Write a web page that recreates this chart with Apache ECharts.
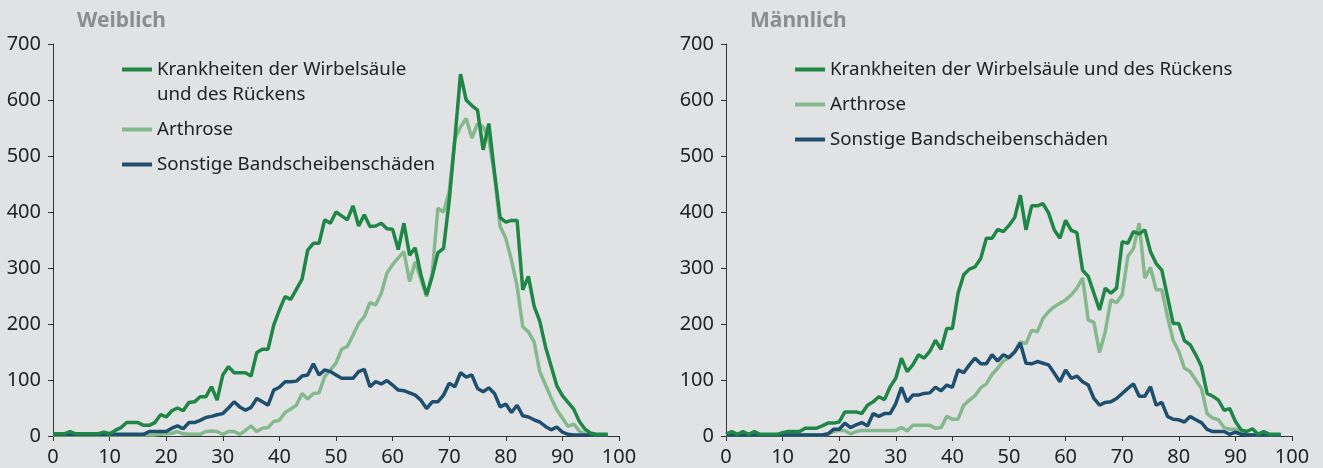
<!DOCTYPE html>
<html>
<head>
<meta charset="utf-8">
<script src="https://cdn.jsdelivr.net/npm/echarts@6/dist/echarts.min.js"></script>
<style>
  html, body { margin: 0; padding: 0; background: #e1e2e4; }
  #chart { width: 1323px; height: 468px; }
</style>
</head>
<body>
<div id="chart"></div>
<script>
// Alter in Jahren (0 bis 98)
const ages = []
for (let a = 0; a <= 98; a++) ages.push(a)

const xTicks = [0, 10, 20, 30, 40, 50, 60, 70, 80, 90, 100]
const yTicks = [0, 100, 200, 300, 400, 500, 600, 700]

const nameKW = 'Krankheiten der Wirbelsäule und des Rückens'
const nameAR = 'Arthrose'
const nameSO = 'Sonstige Bandscheibenschäden'

// Weiblich
const wKW = [
  4, 4, 4, 8, 4, 4, 4, 4, 4, 7,
  4, 10, 15, 24, 24, 24, 19, 19, 24, 38,
  34, 45, 50, 45, 60, 61, 70, 70, 88, 64,
  109, 124, 113, 113, 113, 107, 149, 155, 155, 198,
  225, 249, 244, 262, 280, 332, 344, 344, 386, 380,
  400, 393, 386, 411, 375, 395, 374, 375, 380, 370,
  369, 333, 380, 323, 336, 288, 252, 285, 327, 335,
  420, 530, 646, 600, 590, 582, 511, 558, 470, 390,
  382, 385, 385, 261, 285, 232, 205, 160, 125, 90,
  72, 60, 48, 26, 12, 5, 3, 3, 3
]
const wAR = [
  2, 2, 2, 2, 2, 2, 2, 2, 2, 2,
  2, 2, 2, 2, 2, 2, 2, 2, 2, 3,
  4, 5, 8, 4, 3, 3, 3, 8, 9, 8,
  3, 8, 8, 3, 10, 18, 8, 14, 15, 26,
  28, 42, 48, 55, 76, 66, 76, 77, 106, 118,
  130, 155, 160, 180, 201, 213, 238, 234, 255, 291,
  306, 318, 329, 276, 311, 280, 249, 291, 407, 400,
  436, 530, 552, 567, 532, 558, 552, 530, 466, 374,
  353, 314, 267, 195, 186, 168, 115, 92, 68, 47,
  32, 17, 21, 9, 3, 2, 2, 2, 2
]
const wSO = [
  3, 3, 3, 3, 3, 3, 3, 3, 3, 3,
  3, 3, 3, 3, 3, 3, 3, 8, 8, 8,
  8, 14, 18, 13, 24, 24, 28, 33, 35, 38,
  40, 50, 61, 52, 46, 51, 67, 61, 55, 82,
  87, 97, 97, 98, 107, 109, 129, 109, 118, 115,
  109, 103, 103, 103, 115, 119, 88, 97, 93, 99,
  91, 82, 81, 77, 73, 64, 49, 61, 61, 73,
  94, 88, 113, 105, 109, 85, 79, 86, 76, 52,
  57, 42, 55, 36, 34, 29, 25, 17, 11, 16,
  7, 3, 2, 2, 2, 2, 2, 2, 2
]

// Männlich
const mKW = [
  3, 8, 3, 8, 3, 8, 3, 3, 3, 3,
  6, 8, 8, 8, 14, 14, 14, 18, 23, 23,
  25, 43, 43, 43, 40, 55, 61, 70, 65, 88,
  103, 139, 115, 127, 145, 139, 151, 171, 155, 192,
  192, 255, 288, 298, 302, 317, 353, 353, 369, 365,
  376, 390, 430, 368, 411, 411, 415, 398, 368, 353,
  385, 367, 363, 296, 285, 255, 225, 264, 255, 264,
  347, 344, 365, 361, 368, 329, 308, 296, 249, 201,
  201, 170, 163, 145, 124, 76, 71, 64, 46, 49,
  26, 11, 8, 13, 3, 8, 3, 3, 3
]
const mAR = [
  2, 2, 2, 2, 2, 2, 2, 2, 2, 2,
  2, 2, 2, 2, 2, 2, 2, 2, 3, 8,
  10, 10, 4, 8, 10, 10, 10, 10, 10, 10,
  10, 15, 9, 19, 19, 19, 19, 14, 15, 35,
  30, 30, 55, 64, 72, 86, 93, 110, 121, 134,
  140, 150, 168, 165, 189, 186, 210, 222, 231, 237,
  243, 252, 264, 282, 207, 203, 149, 186, 243, 238,
  252, 321, 335, 380, 282, 301, 261, 261, 213, 171,
  151, 121, 115, 100, 85, 40, 32, 29, 15, 12,
  12, 7, 3, 2, 2, 2, 2, 2, 2
]
const mSO = [
  2, 2, 2, 2, 2, 2, 2, 2, 2, 2,
  2, 2, 2, 2, 2, 2, 2, 2, 4, 12,
  12, 23, 15, 20, 24, 18, 40, 35, 40, 40,
  58, 87, 61, 73, 73, 76, 77, 87, 81, 91,
  87, 118, 113, 127, 139, 129, 129, 145, 134, 145,
  140, 150, 166, 130, 129, 133, 130, 127, 112, 97,
  118, 103, 107, 97, 91, 67, 55, 60, 61, 67,
  76, 85, 93, 71, 71, 88, 55, 60, 35, 30,
  29, 25, 35, 29, 24, 12, 8, 8, 8, 3,
  7, 3, 2, 2, 2, 2, 2, 2, 2
]

const colKW = '#1f8746'
const colAR = '#84b98e'
const colSO = '#1e4f6f'
const font = 'Noto Sans'
const textCol = '#222'

const pairs = vals => vals.map((v, i) => [ages[i], v])

const myChart = echarts.init(document.getElementById('chart'))

function xAxisOf (gridIndex) {
  return {
    type: 'value',
    gridIndex: gridIndex,
    min: xTicks[0],
    max: xTicks[xTicks.length - 1],
    interval: 10,
    splitLine: { show: false },
    axisLine: { show: true, lineStyle: { color: '#333', width: 1 } },
    axisTick: { show: true, length: 5, lineStyle: { color: '#333' } },
    axisLabel: { color: textCol, fontFamily: font, fontSize: 20, margin: 11 }
  }
}
function yAxisOf (gridIndex) {
  return {
    type: 'value',
    gridIndex: gridIndex,
    min: yTicks[0],
    max: yTicks[yTicks.length - 1],
    interval: 100,
    splitLine: { show: false },
    axisLine: { show: true, lineStyle: { color: '#333', width: 1 } },
    axisTick: { show: true, length: 5, lineStyle: { color: '#333' } },
    axisLabel: { color: textCol, fontFamily: font, fontSize: 20, margin: 12 }
  }
}
function lineOf (name, color, vals, idx) {
  return {
    name: name,
    type: 'line',
    xAxisIndex: idx,
    yAxisIndex: idx,
    data: pairs(vals),
    showSymbol: false,
    lineStyle: { color: color, width: 3.5 },
    itemStyle: { color: color }
  }
}
const legendBase = {
  orient: 'vertical',
  icon: 'rect',
  itemWidth: 30,
  itemHeight: 4,
  itemGap: 10,
  padding: 0,
  selectedMode: false,
  textStyle: { color: textCol, fontFamily: font, fontSize: 18.7, lineHeight: 25 }
}

const option = {
  backgroundColor: '#e1e2e4',
  animation: false,
  title: [
    { text: 'Weiblich', left: 77, top: 11, padding: 0, textStyle: { color: '#8b8d90', fontFamily: font, fontSize: 21, fontWeight: 'bold' } },
    { text: 'Männlich', left: 750, top: 11, padding: 0, textStyle: { color: '#8b8d90', fontFamily: font, fontSize: 21, fontWeight: 'bold' } }
  ],
  legend: [
    Object.assign({}, legendBase, {
      left: 122,
      top: 32,
      data: [nameKW, nameAR, nameSO],
      // erste Zeile leer, damit das Symbol auf Höhe der ersten Textzeile sitzt
      formatter: name => name === nameKW ? '\nKrankheiten der Wirbelsäule\nund des Rückens' : name
    }),
    Object.assign({}, legendBase, {
      left: 795,
      top: 57,
      data: [nameKW, nameAR, nameSO]
    })
  ],
  grid: [
    { left: 53, right: 704, top: 44, bottom: 32 },
    { left: 726, right: 31, top: 44, bottom: 32 }
  ],
  xAxis: [xAxisOf(0), xAxisOf(1)],
  yAxis: [yAxisOf(0), yAxisOf(1)],
  series: [
    lineOf(nameAR, colAR, wAR, 0),
    lineOf(nameSO, colSO, wSO, 0),
    lineOf(nameKW, colKW, wKW, 0),
    lineOf(nameAR, colAR, mAR, 1),
    lineOf(nameSO, colSO, mSO, 1),
    lineOf(nameKW, colKW, mKW, 1)
  ]
}
myChart.setOption(option)
</script>
</body>
</html>
